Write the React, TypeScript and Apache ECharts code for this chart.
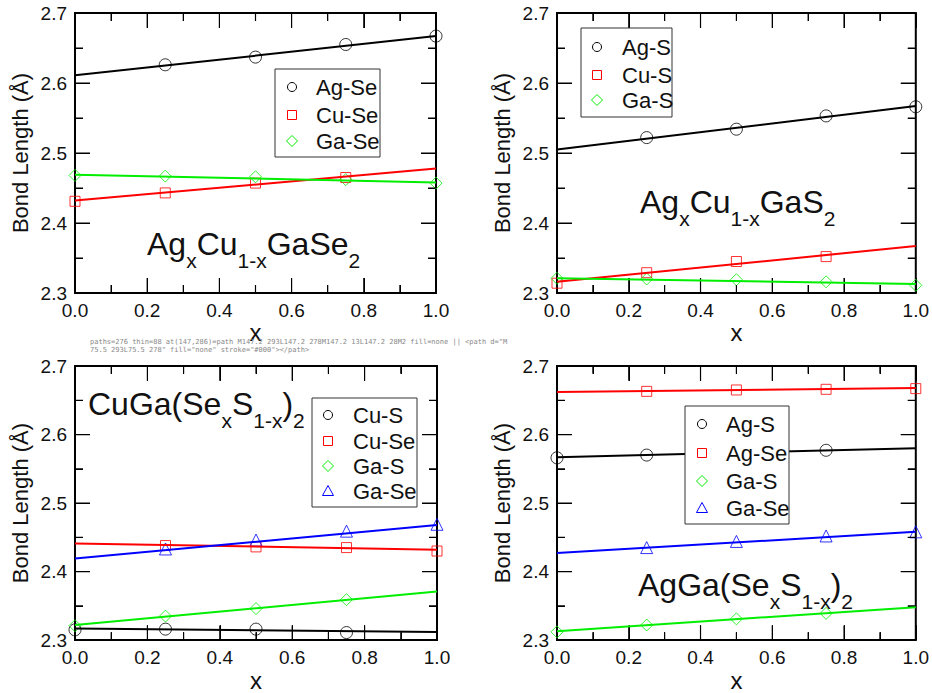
import React, { useEffect, useRef, useState } from 'react';
import * as echarts from 'echarts';

// ---------- data ----------
const xValues = [0, 0.25, 0.5, 0.75, 1.0];
const fitX = [0, 1];

// Panel 1: AgxCu1-xGaSe2
const p1AgSe = [null, 2.626, 2.637, 2.655, 2.667];
const p1AgSeFit = [2.611, 2.667];
const p1CuSe = [2.431, 2.443, 2.457, 2.465, null];
const p1CuSeFit = [2.432, 2.478];
const p1GaSe = [2.468, 2.467, 2.466, 2.462, 2.457];
const p1GaSeFit = [2.469, 2.458];

// Panel 2: AgxCu1-xGaS2
const p2AgS = [null, 2.522, 2.534, 2.553, 2.566];
const p2AgSFit = [2.505, 2.567];
const p2CuS = [2.314, 2.329, 2.345, 2.352, null];
const p2CuSFit = [2.316, 2.367];
const p2GaS = [2.321, 2.320, 2.319, 2.316, 2.311];
const p2GaSFit = [2.321, 2.313];

// Panel 3: CuGa(SexS1-x)2
const p3CuS = [2.315, 2.316, 2.316, 2.311, null];
const p3CuSFit = [2.317, 2.312];
const p3CuSe = [null, 2.438, 2.436, 2.435, 2.430];
const p3CuSeFit = [2.441, 2.432];
const p3GaS = [2.321, 2.335, 2.346, 2.359, null];
const p3GaSFit = [2.322, 2.371];
const p3GaSe = [null, 2.433, 2.446, 2.459, 2.469];
const p3GaSeFit = [2.419, 2.468];

// Panel 4: AgGa(SexS1-x)2
const p4AgS = [2.566, 2.570, 2.573, 2.577, null];
const p4AgSFit = [2.567, 2.580];
const p4AgSe = [null, 2.663, 2.665, 2.666, 2.667];
const p4AgSeFit = [2.662, 2.668];
const p4GaS = [2.312, 2.322, 2.331, 2.339, null];
const p4GaSFit = [2.313, 2.348];
const p4GaSe = [null, 2.435, 2.444, 2.452, 2.458];
const p4GaSeFit = [2.427, 2.458];

// axes
const xMin = 0, xMax = 1, xInterval = 0.2;
const yMin = 2.3, yMax = 2.7, yInterval = 0.1;
const xMajorTicks = [0.2, 0.4, 0.6, 0.8];
const xMinorTicks = [0.1, 0.3, 0.5, 0.7, 0.9];
const yMajorTicks = [2.4, 2.5, 2.6];
const yMinorTicks = [2.35, 2.45, 2.55, 2.65];
const yAxisTitle = 'Bond Length (Å)';
const xAxisTitle = 'x';

// ---------- styling / layout ----------
const FONT = "'Liberation Sans', Arial, Helvetica, sans-serif";
const BLACK = '#000000', RED = '#ff0000', GREEN = '#00ee00', BLUE = '#0000ff';
const MAJOR_LEN = 15;
const MINOR_LEN = 8;

type Bond = { name: string; vals: (number | null)[]; fit: number[]; color: string; symbol: string; size: number };

const panels: {
  grid: { left: number; top: number; width: number; height: number };
  title: { parts: [string, string][]; x: number; baseline: number };
  legend: { x: number; y: number; w: number; h: number; rows: number[]; symX: number; textX: number };
  bonds: Bond[];
}[] = [
  {
    grid: { left: 75, top: 13, width: 361, height: 280 },
    title: { parts: [['m', 'Ag'], ['s', 'x'], ['m', 'Cu'], ['s', '1-x'], ['m', 'GaSe'], ['s', '2']], x: 147, baseline: 255 },
    legend: { x: 275, y: 69, w: 105, h: 88, rows: [87, 115, 141], symX: 292, textX: 316 },
    bonds: [
      { name: 'Ag-Se', vals: p1AgSe, fit: p1AgSeFit, color: BLACK, symbol: 'circle', size: 12 },
      { name: 'Cu-Se', vals: p1CuSe, fit: p1CuSeFit, color: RED, symbol: 'rect', size: 10 },
      { name: 'Ga-Se', vals: p1GaSe, fit: p1GaSeFit, color: GREEN, symbol: 'diamond', size: 12 },
    ],
  },
  {
    grid: { left: 557, top: 13, width: 360, height: 280 },
    title: { parts: [['m', 'Ag'], ['s', 'x'], ['m', 'Cu'], ['s', '1-x'], ['m', 'GaS'], ['s', '2']], x: 640, baseline: 213 },
    legend: { x: 581, y: 28, w: 91, h: 89, rows: [47, 75, 100], symX: 597, textX: 622 },
    bonds: [
      { name: 'Ag-S', vals: p2AgS, fit: p2AgSFit, color: BLACK, symbol: 'circle', size: 12 },
      { name: 'Cu-S', vals: p2CuS, fit: p2CuSFit, color: RED, symbol: 'rect', size: 10 },
      { name: 'Ga-S', vals: p2GaS, fit: p2GaSFit, color: GREEN, symbol: 'diamond', size: 12 },
    ],
  },
  {
    grid: { left: 75, top: 366, width: 362, height: 281 },
    title: { parts: [['m', 'CuGa(Se'], ['s', 'x'], ['m', 'S'], ['s', '1-x'], ['m', ')'], ['s', '2']], x: 88, baseline: 415 },
    legend: { x: 312, y: 398, w: 105, h: 109, rows: [415, 441, 466, 491], symX: 328, textX: 353 },
    bonds: [
      { name: 'Cu-S', vals: p3CuS, fit: p3CuSFit, color: BLACK, symbol: 'circle', size: 12 },
      { name: 'Cu-Se', vals: p3CuSe, fit: p3CuSeFit, color: RED, symbol: 'rect', size: 10 },
      { name: 'Ga-S', vals: p3GaS, fit: p3GaSFit, color: GREEN, symbol: 'diamond', size: 12 },
      { name: 'Ga-Se', vals: p3GaSe, fit: p3GaSeFit, color: BLUE, symbol: 'triangle', size: 12 },
    ],
  },
  {
    grid: { left: 557, top: 366, width: 360, height: 281 },
    title: { parts: [['m', 'AgGa(Se'], ['s', 'x'], ['m', 'S'], ['s', '1-x'], ['m', ')'], ['s', '2']], x: 638, baseline: 596 },
    legend: { x: 685, y: 406, w: 104, h: 118, rows: [424, 453, 481, 508], symX: 702, textX: 726 },
    bonds: [
      { name: 'Ag-S', vals: p4AgS, fit: p4AgSFit, color: BLACK, symbol: 'circle', size: 12 },
      { name: 'Ag-Se', vals: p4AgSe, fit: p4AgSeFit, color: RED, symbol: 'rect', size: 10 },
      { name: 'Ga-S', vals: p4GaS, fit: p4GaSFit, color: GREEN, symbol: 'diamond', size: 12 },
      { name: 'Ga-Se', vals: p4GaSe, fit: p4GaSeFit, color: BLUE, symbol: 'triangle', size: 12 },
    ],
  },
];

const SUB_PAD = 34;
const MAIN_FS = 32;
const SUB_FS = 21;

function legendIcon(symbol: string, cx: number, cy: number, color: string) {
  const style = { fill: 'none', stroke: color, lineWidth: 1 };
  if (symbol === 'circle') return { type: 'circle', shape: { cx, cy, r: 4.5 }, style, z: 101 };
  if (symbol === 'rect') return { type: 'rect', shape: { x: cx - 4.5, y: cy - 4.5, width: 9, height: 9 }, style, z: 101 };
  if (symbol === 'diamond')
    return { type: 'polygon', shape: { points: [[cx, cy - 5.5], [cx + 5.5, cy], [cx, cy + 5.5], [cx - 5.5, cy]] }, style, z: 101 };
  return { type: 'polygon', shape: { points: [[cx, cy - 5.5], [cx + 5.5, cy + 4.5], [cx - 5.5, cy + 4.5]] }, style, z: 101 };
}

// tick marks as broken line segments (a line series with gaps), pointing inward on all four sides
function tickLineSeries(pi: number, gw: number, gh: number) {
  const pxX = (xMax - xMin) / gw;
  const pxY = (yMax - yMin) / gh;
  const data: any[] = [];
  const gap = () => data.push([NaN, NaN]);
  const addX = (v: number, len: number) => {
    data.push([v, yMin], [v, yMin + len * pxY]); gap();
    data.push([v, yMax], [v, yMax - len * pxY]); gap();
  };
  const addY = (v: number, len: number) => {
    data.push([xMin, v], [xMin + len * pxX, v]); gap();
    data.push([xMax, v], [xMax - len * pxX, v]); gap();
  };
  xMajorTicks.forEach((v) => addX(v, MAJOR_LEN));
  xMinorTicks.forEach((v) => addX(v, MINOR_LEN));
  yMajorTicks.forEach((v) => addY(v, MAJOR_LEN));
  yMinorTicks.forEach((v) => addY(v, MINOR_LEN));
  return {
    type: 'line',
    name: `ticks ${pi}`,
    xAxisIndex: pi * 2,
    yAxisIndex: pi * 2,
    data,
    connectNulls: false,
    showSymbol: false,
    symbol: 'none',
    lineStyle: { color: '#000', width: 1.2 },
    silent: true,
  };
}

const mkTick = () => ({ show: true, inside: true, length: MAJOR_LEN, lineStyle: { color: '#000', width: 1 } });
const mkMinor = () => ({ show: true, splitNumber: 2, length: MINOR_LEN, lineStyle: { color: '#000', width: 1 } });

function buildOption() {
  const grids: any[] = [];
  const xAxes: any[] = [];
  const yAxes: any[] = [];
  const series: any[] = [];
  const graphics: any[] = [];

  const labelStyle = () => ({ fontFamily: FONT, fontSize: 19, color: '#111' });

  panels.forEach((p, pi) => {
    grids.push({
      left: p.grid.left, top: p.grid.top, width: p.grid.width, height: p.grid.height,
      containLabel: false, show: true, borderColor: '#000', borderWidth: 2,
    });
    const xb = () => ({
      type: 'value', gridIndex: pi, min: xMin, max: xMax, interval: xInterval,
      axisLine: { show: false, onZero: false }, axisTick: mkTick(), minorTick: mkMinor(), splitLine: { show: false },
    });
    const yb = () => ({
      type: 'value', gridIndex: pi, min: yMin, max: yMax, interval: yInterval,
      axisLine: { show: false, onZero: false }, axisTick: mkTick(), minorTick: mkMinor(), splitLine: { show: false },
    });
    xAxes.push({
      ...xb(),
      position: 'bottom',
      name: xAxisTitle,
      nameLocation: 'middle',
      nameGap: 22,
      nameTextStyle: { fontFamily: FONT, fontSize: 24, color: '#111' },
      axisLabel: { ...labelStyle(), margin: 8, formatter: (v: number) => v.toFixed(1) },
    });
    xAxes.push({ ...xb(), position: 'top', axisLabel: { show: false } });
    yAxes.push({
      ...yb(),
      position: 'left',
      name: yAxisTitle,
      nameLocation: 'middle',
      nameGap: 44,
      nameTextStyle: { fontFamily: FONT, fontSize: 22, color: '#111' },
      axisLabel: { ...labelStyle(), margin: 8, formatter: (v: number) => v.toFixed(1) },
    });
    yAxes.push({ ...yb(), position: 'right', axisLabel: { show: false } });

    series.push(tickLineSeries(pi, p.grid.width, p.grid.height));

    p.bonds.forEach((b) => {
      series.push({
        type: 'line',
        name: `${b.name} fit ${pi}`,
        xAxisIndex: pi * 2,
        yAxisIndex: pi * 2,
        data: fitX.map((x, i) => [x, b.fit[i]]),
        showSymbol: false,
        symbol: 'none',
        lineStyle: { color: b.color, width: 2 },
        silent: true,
      });
      series.push({
        type: 'scatter',
        name: `${b.name} ${pi}`,
        xAxisIndex: pi * 2,
        yAxisIndex: pi * 2,
        data: xValues.map((x, i) => [x, b.vals[i]]).filter((d) => d[1] !== null),
        symbol: b.symbol,
        symbolSize: b.size,
        itemStyle: { color: 'rgba(0,0,0,0)', borderColor: b.color, borderWidth: 1 },
      });
    });

    const lg = p.legend;
    graphics.push({
      type: 'rect',
      shape: { x: lg.x, y: lg.y, width: lg.w, height: lg.h },
      style: { fill: '#fff', stroke: '#333', lineWidth: 1 },
      z: 100,
    });
    p.bonds.forEach((b, i) => {
      graphics.push(legendIcon(b.symbol, lg.symX, lg.rows[i], b.color));
      graphics.push({
        type: 'text',
        x: lg.textX,
        y: lg.rows[i],
        style: { text: b.name, fontFamily: FONT, fontSize: 22, fill: '#111', textAlign: 'left', textVerticalAlign: 'middle' },
        z: 101,
      });
    });

    const t = p.title;
    const lineH = SUB_FS + SUB_PAD;
    const baselineOffset = lineH / 2 + MAIN_FS * 0.3465;
    graphics.push({
      type: 'text',
      x: t.x,
      y: t.baseline - baselineOffset,
      style: {
        text: t.parts.map(([k, s]) => `{${k}|${s}}`).join(''),
        textAlign: 'left',
        textVerticalAlign: 'top',
        rich: {
          m: { fontFamily: FONT, fontSize: MAIN_FS, fill: '#111', verticalAlign: 'middle' },
          s: { fontFamily: FONT, fontSize: SUB_FS, fill: '#111', verticalAlign: 'middle', padding: [SUB_PAD, 0, 0, 0] },
        },
      },
      z: 102,
    });
  });

  return {
    animation: false,
    grid: grids,
    xAxis: xAxes,
    yAxis: yAxes,
    series,
    graphic: graphics,
  };
}

export default function App() {
  const ref = useRef<HTMLDivElement>(null);
  const [diag, setDiag] = useState('');
  useEffect(() => {
    if (!ref.current) return;
    const chart = echarts.init(ref.current, undefined, { renderer: 'svg' });
    chart.setOption(buildOption() as any);
    try {
      const paths = Array.from(ref.current.querySelectorAll('path')) as SVGGraphicsElement[];
      let thin = 0;
      let sample = '';
      paths.forEach((pth) => {
        const bb = pth.getBBox();
        if (bb.width <= 2 && bb.height >= 6 && bb.height <= 16) {
          thin++;
          if (!sample) sample = pth.outerHTML.slice(0, 160);
        }
      });
      const el = document.elementFromPoint(147, 286) as Element | null;
      const info = el ? el.tagName + ' ' + (el.getAttribute('d') || '').slice(0, 40) + ' fill=' + el.getAttribute('fill') : 'none';
      setDiag('paths=' + paths.length + ' thin=' + thin + ' at(147,286)=' + info + ' || ' + sample);
    } catch (e) {
      setDiag('err ' + String(e));
    }
    return () => chart.dispose();
  }, []);
  return (
    <div>
      <div
        ref={ref}
        style={{ position: 'absolute', left: 0, top: 0, width: 932, height: 693, background: '#fff' }}
      />
      <div style={{ position: 'absolute', left: 90, top: 338, width: 420, fontSize: 7, lineHeight: '8px', fontFamily: 'monospace', color: '#888', wordBreak: 'break-all', pointerEvents: 'none' }}>{diag}</div>
    </div>
  );
}
